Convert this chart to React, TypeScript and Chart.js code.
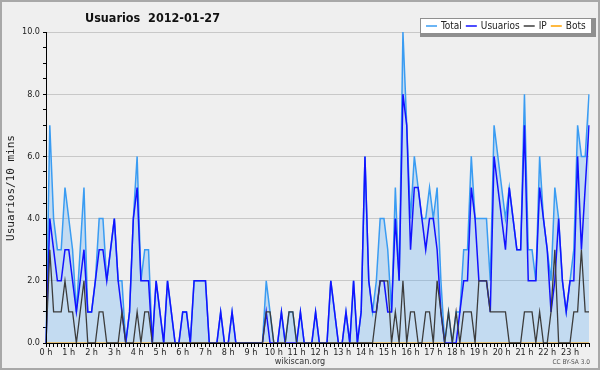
import React, { useEffect, useRef } from "react";
import { Chart, registerables } from "chart.js";

Chart.register(...registerables);

// ---- data (10-minute slots, 2012-01-27) ----
const hourLabels = [
  "0 h", "1 h", "2 h", "3 h", "4 h", "5 h", "6 h", "7 h", "8 h", "9 h", "10 h", "11 h",
  "12 h", "13 h", "14 h", "15 h", "16 h", "17 h", "18 h", "19 h", "20 h", "21 h", "22 h", "23 h",
];
const slotMinutes = ["00", "10", "20", "30", "40", "50"];

const total = [
  0, 7, 4, 3, 3, 5, 4, 3, 1, 3, 5, 1, 1, 2, 4, 4, 2, 3, 4, 2, 2, 0, 1, 4,
  6, 2, 3, 3, 0, 2, 1, 0, 2, 1, 0, 0, 1, 1, 0, 2, 2, 2, 2, 0, 0, 0, 1, 0,
  0, 1, 0, 0, 0, 0, 0, 0, 0, 0, 2, 1, 0, 0, 1, 0, 1, 1, 0, 1, 0, 0, 0, 1,
  0, 0, 0, 2, 1, 0, 0, 1, 0, 2, 0, 1, 6, 2, 1, 2, 4, 4, 3, 1, 5, 2, 10, 7,
  4, 6, 5, 4, 4, 5, 4, 5, 2, 0, 1, 0, 1, 1, 3, 3, 6, 4, 4, 4, 4, 2, 7, 6,
  5, 4, 5, 4, 3, 3, 8, 3, 3, 2, 6, 4, 3, 2, 5, 4, 2, 1, 2, 3, 7, 6, 6, 8,
];
const usuarios = [
  0, 4, 3, 2, 2, 3, 3, 2, 1, 2, 3, 1, 1, 2, 3, 3, 2, 3, 4, 2, 1, 0, 1, 4,
  5, 2, 2, 2, 0, 2, 1, 0, 2, 1, 0, 0, 1, 1, 0, 2, 2, 2, 2, 0, 0, 0, 1, 0,
  0, 1, 0, 0, 0, 0, 0, 0, 0, 0, 1, 0, 0, 0, 1, 0, 0, 0, 0, 1, 0, 0, 0, 1,
  0, 0, 0, 2, 1, 0, 0, 1, 0, 2, 0, 1, 6, 2, 1, 1, 2, 2, 1, 1, 4, 2, 8, 7,
  3, 5, 5, 4, 3, 4, 4, 3, 1, 0, 0, 0, 0, 1, 2, 2, 5, 4, 2, 2, 2, 1, 6, 5,
  4, 3, 5, 4, 3, 3, 7, 2, 2, 2, 5, 4, 3, 1, 2, 4, 2, 1, 2, 2, 6, 3, 5, 7,
];
const ip = [
  0, 3, 1, 1, 1, 2, 1, 1, 0, 1, 2, 0, 0, 0, 1, 1, 0, 0, 0, 0, 1, 0, 0, 0,
  1, 0, 1, 1, 0, 0, 0, 0, 0, 0, 0, 0, 0, 0, 0, 0, 0, 0, 0, 0, 0, 0, 0, 0,
  0, 0, 0, 0, 0, 0, 0, 0, 0, 0, 1, 1, 0, 0, 0, 0, 1, 1, 0, 0, 0, 0, 0, 0,
  0, 0, 0, 0, 0, 0, 0, 0, 0, 0, 0, 0, 0, 0, 0, 1, 2, 2, 2, 0, 1, 0, 2, 0,
  1, 1, 0, 0, 1, 1, 0, 2, 1, 0, 1, 0, 1, 0, 1, 1, 1, 0, 2, 2, 2, 1, 1, 1,
  1, 1, 0, 0, 0, 0, 1, 1, 1, 0, 1, 0, 0, 1, 3, 0, 0, 0, 0, 1, 1, 3, 1, 1,
];
const bots = [
  0, 0, 0, 0, 0, 0, 0, 0, 0, 0, 0, 0, 0, 0, 0, 0, 0, 0, 0, 0, 0, 0, 0, 0,
  0, 0, 0, 0, 0, 0, 0, 0, 0, 0, 0, 0, 0, 0, 0, 0, 0, 0, 0, 0, 0, 0, 0, 0,
  0, 0, 0, 0, 0, 0, 0, 0, 0, 0, 0, 0, 0, 0, 0, 0, 0, 0, 0, 0, 0, 0, 0, 0,
  0, 0, 0, 0, 0, 0, 0, 0, 0, 0, 0, 0, 0, 0, 0, 0, 0, 0, 0, 0, 0, 0, 0, 0,
  0, 0, 0, 0, 0, 0, 0, 0, 0, 0, 0, 0, 0, 0, 0, 0, 0, 0, 0, 0, 0, 0, 0, 0,
  0, 0, 0, 0, 0, 0, 0, 0, 0, 0, 0, 0, 0, 0, 0, 0, 0, 0, 0, 0, 0, 0, 0, 0,
];

const titleText = "Usuarios  2012-01-27";
const yTitle = "Usuarios/10 mins";
const footerText = "wikiscan.org";
const licenseText = "CC BY-SA 3.0";
const legendItems = [
  { label: "Total", color: "#3a9cf2" },
  { label: "Usuarios", color: "#1212ff" },
  { label: "IP", color: "#3c3c3c" },
  { label: "Bots", color: "#ffa200" },
];

const FONT = '"DejaVu Sans Condensed", "DejaVu Sans", sans-serif';

const slots: string[] = [];
hourLabels.forEach((h) => slotMinutes.forEach((m) => slots.push(h.replace(" h", "") + ":" + m)));

const decorPlugin = {
  id: "decor",
  beforeDraw(chart: any) {
    const ctx = chart.ctx;
    ctx.save();
    ctx.fillStyle = "#efefef";
    ctx.fillRect(0, 0, chart.width, chart.height);
    ctx.strokeStyle = "#a8a8a8";
    ctx.lineWidth = 2;
    ctx.strokeRect(1, 1, chart.width - 2, chart.height - 2);
    ctx.restore();
  },
  afterDraw(chart: any) {
    const ctx = chart.ctx;
    ctx.save();
    // title
    ctx.fillStyle = "#111";
    ctx.font = "bold 12.5px " + FONT;
    ctx.textAlign = "left";
    ctx.textBaseline = "alphabetic";
    ctx.fillText(titleText, 85, 22);

    // legend box
    ctx.fillStyle = "#8f8f8f";
    ctx.fillRect(420, 18, 176, 19);
    ctx.fillStyle = "#ffffff";
    ctx.fillRect(421, 19, 170, 14);
    ctx.font = "10px " + FONT;
    ctx.textBaseline = "middle";
    let x = 426;
    legendItems.forEach((it) => {
      ctx.strokeStyle = it.color;
      ctx.lineWidth = 1.5;
      ctx.beginPath();
      ctx.moveTo(x, 26);
      ctx.lineTo(x + 11, 26);
      ctx.stroke();
      ctx.fillStyle = "#222";
      ctx.fillText(it.label, x + 15, 26.5);
      x += 15 + ctx.measureText(it.label).width + 4;
    });

    // y title
    ctx.save();
    ctx.translate(11, 188);
    ctx.rotate(-Math.PI / 2);
    ctx.font = '11px "DejaVu Sans Mono", monospace';
    ctx.fillStyle = "#222";
    ctx.textAlign = "center";
    ctx.textBaseline = "middle";
    ctx.fillText(yTitle, 0, 0);
    ctx.restore();

    // footer
    ctx.fillStyle = "#333";
    ctx.font = "9px " + FONT;
    ctx.textAlign = "center";
    ctx.textBaseline = "alphabetic";
    ctx.fillText(footerText, 300, 364);
    ctx.font = "6.5px " + FONT;
    ctx.fillStyle = "#555";
    ctx.textAlign = "right";
    ctx.fillText(licenseText, 590, 364);
    ctx.restore();
  },
};

export default function App() {
  const ref = useRef<HTMLCanvasElement | null>(null);
  useEffect(() => {
    document.body.style.margin = "0";
    const canvas = ref.current;
    if (!canvas) return;
    const chart = new Chart(canvas, {
      type: "line",
      data: {
        labels: slots,
        datasets: [
          { label: "Bots", data: bots, borderColor: "#ffa200", borderWidth: 1.2, fill: false, order: 4 },
          {
            label: "Total",
            data: total,
            borderColor: "#3a9cf2",
            backgroundColor: "rgba(78,168,246,0.27)",
            borderWidth: 1.5,
            fill: "origin",
            order: 3,
          },
          { label: "Usuarios", data: usuarios, borderColor: "#1212ff", borderWidth: 1.5, fill: false, order: 2 },
          { label: "IP", data: ip, borderColor: "#3c3c3c", borderWidth: 1.3, fill: false, order: 1 },
        ],
      },
      options: {
        responsive: false,
        animation: false,
        devicePixelRatio: 1,
        events: [],
        layout: { padding: { left: 0, right: 11, top: 32, bottom: 0 } },
        elements: { point: { radius: 0, hoverRadius: 0 }, line: { tension: 0 } },
        plugins: {
          legend: { display: false },
          title: { display: false },
          tooltip: { enabled: false },
          filler: { drawTime: "beforeDatasetsDraw" },
        } as any,
        scales: {
          x: {
            type: "category",
            offset: false,
            border: { display: true, color: "#000", width: 1, z: 1 },
            grid: {
              display: true,
              drawOnChartArea: false,
              drawTicks: true,
              tickLength: 4,
              color: "#000",
              tickColor: "#000",
              offset: false,
              z: 1,
            },
            ticks: {
              autoSkip: false,
              maxRotation: 0,
              minRotation: 0,
              padding: 0,
              color: "#222",
              font: { family: FONT, size: 9 },
              z: 1,
              callback: (_v: any, i: number) => (i % 6 === 0 ? hourLabels[i / 6] : ""),
            },
            afterFit: (s: any) => {
              s.height = 27;
            },
          },
          y: {
            min: 0,
            max: 10,
            border: { display: true, color: "#000", width: 1, z: 1 },
            grid: {
              drawTicks: true,
              tickLength: 3,
              tickColor: "#000",
              color: (c: any) =>
                c.tick && c.tick.value > 0 && c.tick.value % 2 === 0 ? "#c8c8c8" : "rgba(0,0,0,0)",
            },
            ticks: {
              stepSize: 0.5,
              autoSkip: false,
              padding: 3,
              color: "#222",
              font: { family: FONT, size: 9 },
              callback: (v: any) => (Number(v) % 2 === 0 ? Number(v).toFixed(1) : ""),
            },
            afterFit: (s: any) => {
              s.width = 46;
            },
          },
        } as any,
      },
      plugins: [decorPlugin],
    });
    return () => chart.destroy();
  }, []);
  return <canvas ref={ref} width={600} height={370} style={{ display: "block" }} />;
}
